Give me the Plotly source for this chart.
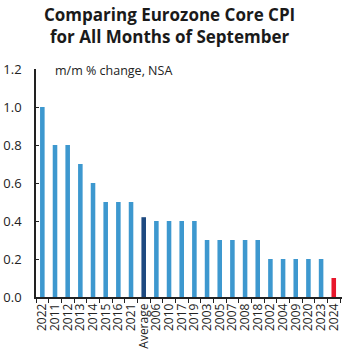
import plotly.graph_objects as go

categories = ["2022", "2011", "2012", "2013", "2014", "2015", "2016", "2021", "Average",
              "2006", "2010", "2017", "2019", "2003", "2005", "2007", "2008", "2018",
              "2002", "2004", "2009", "2020", "2023", "2024"]
values = [1.0, 0.8, 0.8, 0.7, 0.6, 0.5, 0.5, 0.5, 0.42,
          0.4, 0.4, 0.4, 0.4, 0.3, 0.3, 0.3, 0.3, 0.3,
          0.2, 0.2, 0.2, 0.2, 0.2, 0.1]
y_ticks = [0.0, 0.2, 0.4, 0.6, 0.8, 1.0, 1.2]

base_color = "#3d98cf"
avg_color = "#1e4a80"
latest_color = "#e8172c"
colors = [avg_color if c == "Average" else latest_color if c == "2024" else base_color
          for c in categories]

fig = go.Figure(go.Bar(
    x=categories, y=values, marker=dict(color=colors, line=dict(width=0)),
    width=0.36,
))

plot_h = 354 - 69 - 57

fig.update_layout(
    width=345, height=354,
    margin=dict(l=33, r=3, t=69, b=57),
    paper_bgcolor="white", plot_bgcolor="white",
    font=dict(family="Open Sans", color="#222222"),
    showlegend=False,
    annotations=[
        dict(text="<b>Comparing Eurozone Core CPI<br>for All Months of September</b>",
             xref="paper", yref="paper", x=(168 - 33) / 309, y=(297 - 26) / plot_h,
             xanchor="center", yanchor="middle", showarrow=False,
             font=dict(size=17, color="#1a1a1a")),
        dict(text="m/m % change, NSA", xref="paper", yref="paper",
             x=(50 - 33) / 309, y=(297 - 70) / plot_h, xanchor="left", yanchor="middle",
             showarrow=False, font=dict(size=12.5, color="#222222")),
    ],
)

fig.update_xaxes(
    type="category", tickmode="array", tickvals=categories, ticktext=categories,
    showline=True, linecolor="#222222", linewidth=1.5,
    ticks="outside", ticklen=4, tickcolor="#222222", tickson="boundaries",
    tickangle=-90, tickfont=dict(size=12, color="#222222"),
    showgrid=False, range=[-0.5, len(categories) - 0.35],
)
fig.update_yaxes(
    range=[0, 1.2], tickvals=y_ticks, ticktext=[f"{v:.1f}" for v in y_ticks],
    showline=True, linecolor="#222222", linewidth=1.5,
    ticks="inside", ticklen=3, tickcolor="#222222",
    tickfont=dict(size=13, color="#222222"), showgrid=False, zeroline=False,
    ticklabelstandoff=10,
)

fig.write_html("out.html")
